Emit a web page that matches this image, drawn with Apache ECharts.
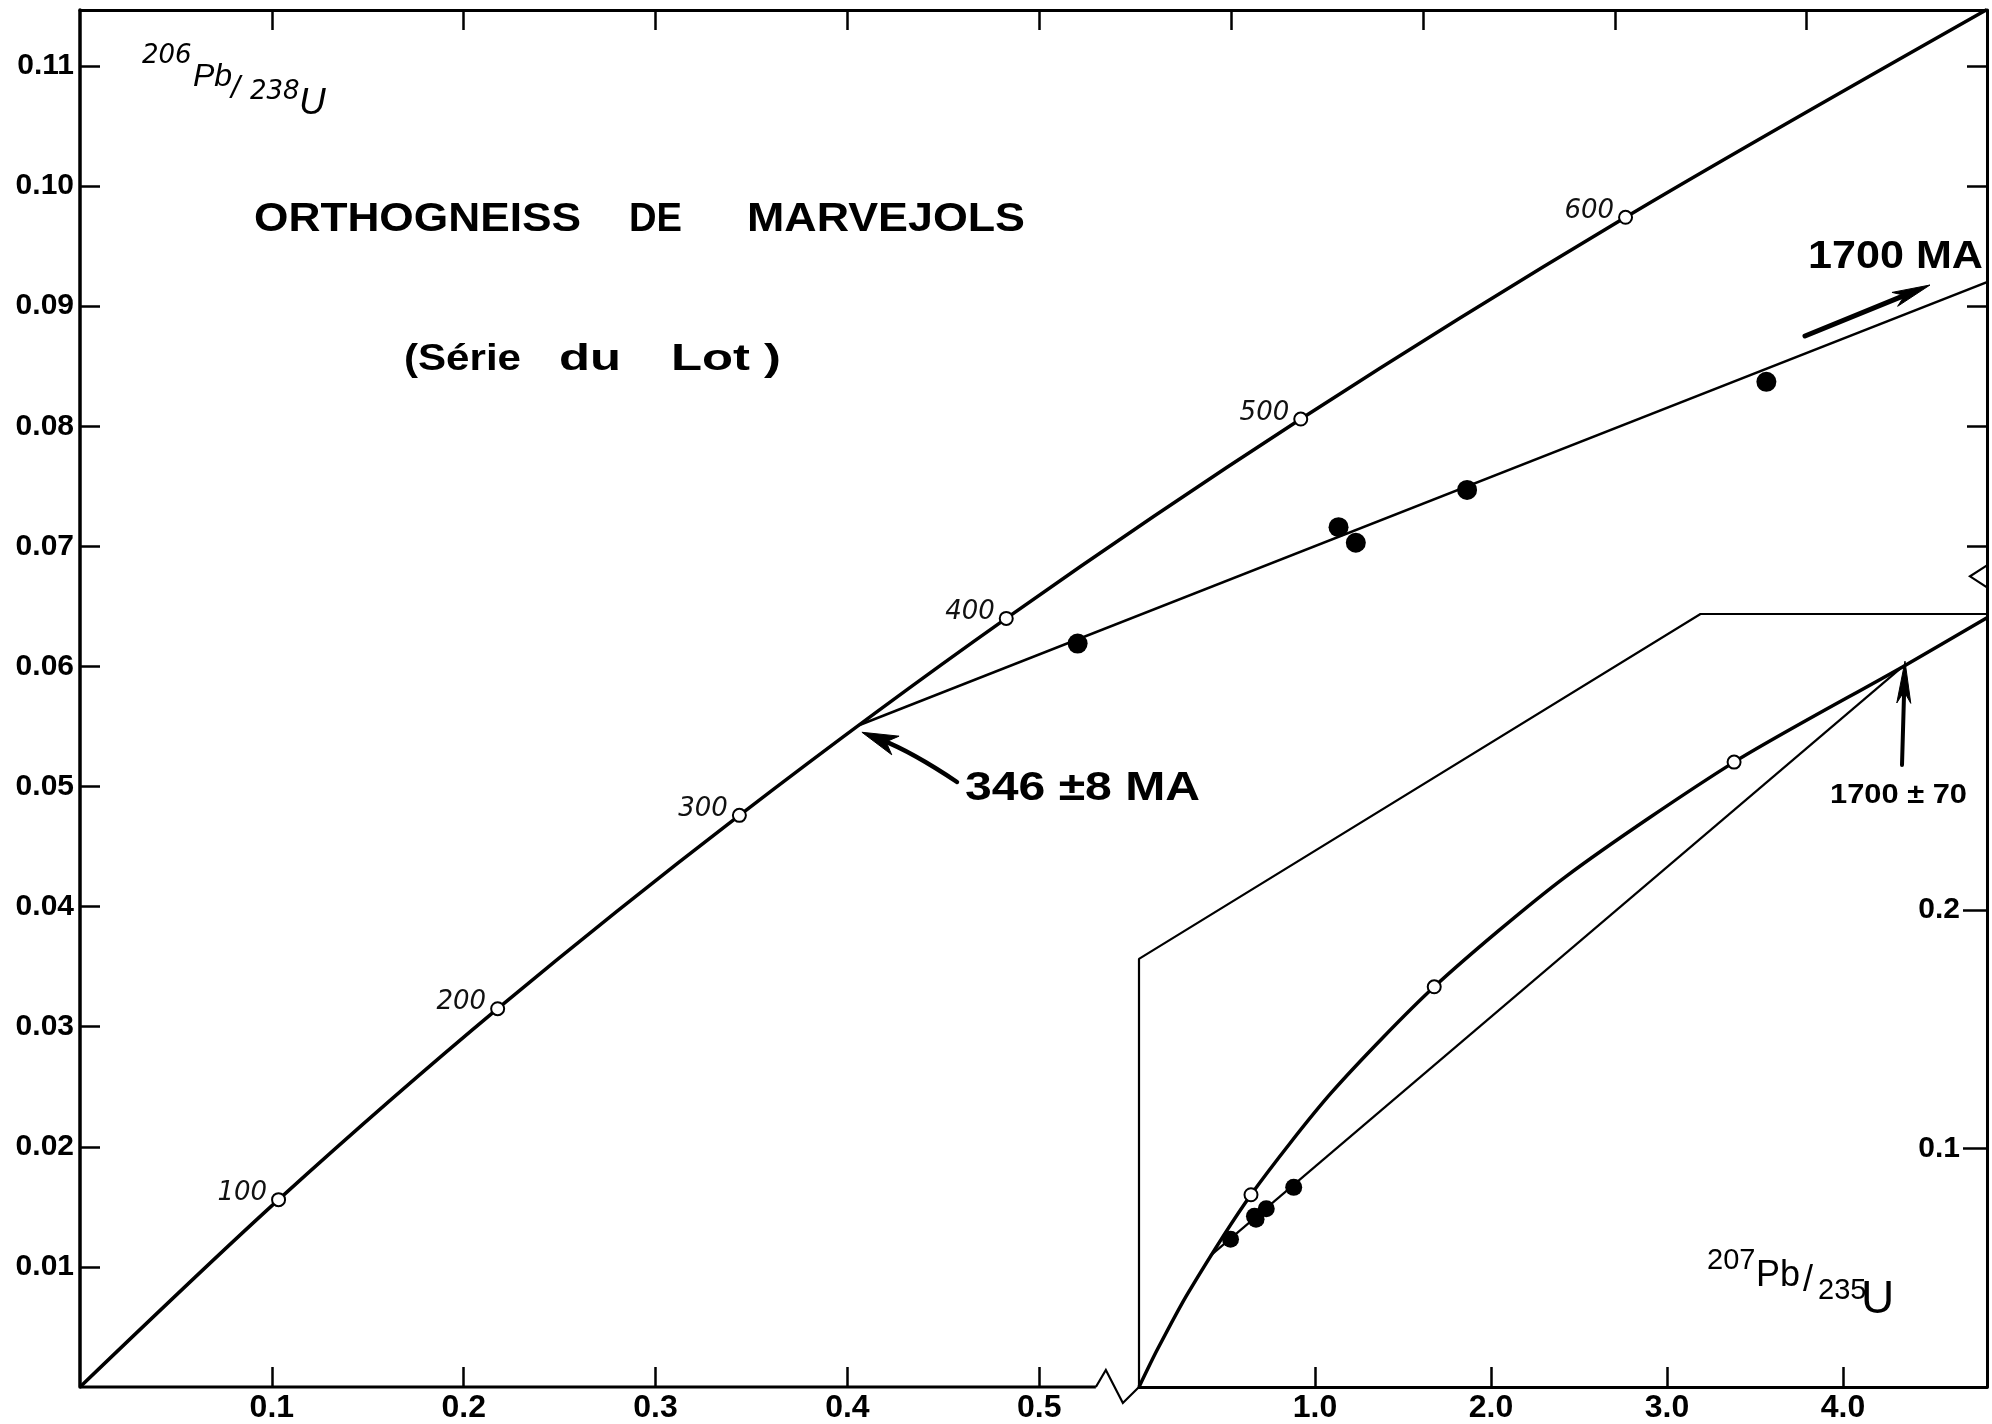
<!DOCTYPE html>
<html>
<head>
<meta charset="utf-8">
<script src="https://cdn.jsdelivr.net/npm/echarts@6/dist/echarts.min.js"></script>
<style>
html,body{margin:0;padding:0;background:#fff;}
#c{width:1992px;height:1424px;}
</style>
</head>
<body>
<div id="c"></div>
<script>
// ---------------- DATA ----------------
// Main diagram: concordia curve (207Pb/235U vs 206Pb/238U)
const concordiaX = [0, 0.1035, 0.2177, 0.3437, 0.4828, 0.6363, 0.8056, 0.9940];
const concordiaY = [0, 0.0156, 0.0315, 0.0476, 0.0640, 0.0806, 0.0974, 0.1147];
// Age ticks (open circles) on the main concordia
const ageLabelsMa = [100, 200, 300, 400, 500, 600];
const ageX = [0.1035, 0.2177, 0.3437, 0.4828, 0.6363, 0.8056];
const ageY = [0.0156, 0.0315, 0.0476, 0.0640, 0.0806, 0.0974];
// Zircon fractions (filled dots)
const sampleX = [0.520, 0.656, 0.665, 0.723, 0.879];
const sampleY = [0.0619, 0.0716, 0.0703, 0.0747, 0.0837];
// Discordia in the main panel (from 346 Ma intercept to the frame edge)
const discordiaMainX = [0.406, 0.9940];
const discordiaMainY = [0.0551, 0.0920];
// Intercepts
const lowerIntercept = [0.406, 0.0551];   // 346 Ma
const upperIntercept = [4.335, 0.3018];   // 1700 Ma
// Inset: full concordia
const insetConcordiaX = [0, 0.1035, 0.2792, 0.6363, 1.0931, 1.6774, 2.4248, 3.381, 4.335, 4.818];
const insetConcordiaY = [0, 0.0156, 0.0395, 0.0806, 0.1234, 0.1678, 0.2140, 0.2620, 0.3018, 0.3225];
const insetAgeMa = [500, 1000, 1500];
const insetAgeX = [0.6363, 1.6774, 3.381];
const insetAgeY = [0.0806, 0.1678, 0.2620];
const insetDiscordiaX = [0.406, 4.335];
const insetDiscordiaY = [0.0551, 0.3018];
// Tick values
const mainBottomTicks = [0.1, 0.2, 0.3, 0.4, 0.5];
const mainTopTicks = [0.1, 0.2, 0.3, 0.4, 0.5, 0.6, 0.7, 0.8, 0.9];
const mainLeftTicks = [0.01, 0.02, 0.03, 0.04, 0.05, 0.06, 0.07, 0.08, 0.09, 0.10, 0.11];
const mainRightTicks = [0.07, 0.08, 0.09, 0.10, 0.11];
const insetXTicks = [1, 2, 3, 4];
const insetYTicks = [0.1, 0.2];

// ---------------- LAYOUT ----------------
const MAIN_X_MAX = 0.994, MAIN_Y_MAX = 0.11466;
const INSET_X_MAX = 4.818, INSET_Y_MAX = 0.3241;
const BREAK_X = 0.5295;                      // main bottom axis stops here
const insetFrame = [[0, 0], [0, 0.1795], [3.19, INSET_Y_MAX], [INSET_X_MAX, INSET_Y_MAX]];

const SANS = "'Liberation Sans', Arial, Helvetica, sans-serif";
const NARROW = "'Liberation Sans Narrow', 'Arial Narrow', 'Liberation Sans', sans-serif";
const DEJAVU = "'DejaVu Sans', sans-serif";
const BLACK = '#000';
const zip = (a, b) => a.map((v, i) => [v, b[i]]);
const tickStyle = {color: BLACK, width: 2.5};

const option = {
  animation: false,
  backgroundColor: '#fff',
  grid: [
    {left: 80, top: 10, width: 1907, height: 1377, outerBoundsMode: 'none', containLabel: false},
    {left: 1139, top: 614, width: 848, height: 773, outerBoundsMode: 'none', containLabel: false}
  ],
  xAxis: [
    {gridIndex: 0, type: 'value', min: 0, max: MAIN_X_MAX, interval: 0.1, position: 'bottom',
     axisLine: {show: false, onZero: false},
     axisTick: {show: true, inside: true, length: 20, customValues: mainBottomTicks, lineStyle: tickStyle},
     axisLabel: {show: true, customValues: mainBottomTicks, formatter: v => v.toFixed(1), margin: 5,
                 color: BLACK, fontFamily: NARROW, fontSize: 32, fontWeight: 'bold'},
     splitLine: {show: false}},
    {gridIndex: 0, type: 'value', min: 0, max: MAIN_X_MAX, interval: 0.1, position: 'top',
     axisLine: {show: true, onZero: false, lineStyle: {color: BLACK, width: 3}},
     axisTick: {show: true, inside: true, length: 20, customValues: mainTopTicks, lineStyle: tickStyle},
     axisLabel: {show: false}, splitLine: {show: false}},
    {gridIndex: 1, type: 'value', min: 0, max: INSET_X_MAX, interval: 1, position: 'bottom',
     axisLine: {show: true, onZero: false, lineStyle: {color: BLACK, width: 3}},
     axisTick: {show: true, inside: true, length: 20, customValues: insetXTicks, lineStyle: tickStyle},
     axisLabel: {show: true, customValues: insetXTicks, formatter: v => v.toFixed(1), margin: 5,
                 color: BLACK, fontFamily: NARROW, fontSize: 32, fontWeight: 'bold'},
     splitLine: {show: false}}
  ],
  yAxis: [
    {gridIndex: 0, type: 'value', min: 0, max: MAIN_Y_MAX, interval: 0.01, position: 'left',
     axisLine: {show: true, onZero: false, lineStyle: {color: BLACK, width: 3.5}},
     axisTick: {show: true, inside: true, length: 20, customValues: mainLeftTicks, lineStyle: tickStyle},
     axisLabel: {show: true, customValues: mainLeftTicks, formatter: v => v.toFixed(2), margin: 6,
                 color: BLACK, fontFamily: SANS, fontSize: 30, fontWeight: 'bold'},
     splitLine: {show: false}},
    {gridIndex: 0, type: 'value', min: 0, max: MAIN_Y_MAX, interval: 0.01, position: 'right',
     axisLine: {show: true, onZero: false, lineStyle: {color: BLACK, width: 3}},
     axisTick: {show: true, inside: true, length: 20, customValues: mainRightTicks, lineStyle: tickStyle},
     axisLabel: {show: false}, splitLine: {show: false}},
    {gridIndex: 1, type: 'value', min: 0, max: INSET_Y_MAX, interval: 0.1, position: 'right',
     axisLine: {show: false, onZero: false},
     axisTick: {show: true, inside: true, length: 24, customValues: insetYTicks, lineStyle: tickStyle},
     axisLabel: {show: true, inside: true, customValues: insetYTicks, formatter: v => v.toFixed(1), margin: 27,
                 color: BLACK, fontFamily: SANS, fontSize: 30, fontWeight: 'bold'},
     splitLine: {show: false}}
  ],
  series: [
    // main bottom axis segment (left of the break)
    {type: 'line', xAxisIndex: 0, yAxisIndex: 0, data: [[0, 0], [BREAK_X, 0]], symbol: 'none',
     lineStyle: {color: BLACK, width: 3}, clip: false, silent: true, z: 2},
    {type: 'line', name: 'Concordia', xAxisIndex: 0, yAxisIndex: 0, data: zip(concordiaX, concordiaY),
     smooth: 0.3, symbol: 'none', lineStyle: {color: BLACK, width: 3.5}, clip: false, silent: true, z: 3},
    {type: 'line', name: 'Discordia', xAxisIndex: 0, yAxisIndex: 0, data: zip(discordiaMainX, discordiaMainY),
     symbol: 'none', lineStyle: {color: BLACK, width: 2.5}, clip: false, silent: true, z: 3},
    {type: 'scatter', name: 'Ages', xAxisIndex: 0, yAxisIndex: 0,
     data: ageX.map((x, i) => [x, ageY[i], ageLabelsMa[i]]),
     symbol: 'circle', symbolSize: 13,
     itemStyle: {color: '#fff', borderColor: BLACK, borderWidth: 2, opacity: 1},
     label: {show: true, position: 'left', distance: 4, offset: [0, -6], formatter: p => String(p.value[2]),
             fontFamily: DEJAVU, fontStyle: 'italic', fontSize: 26, color: '#111'},
     silent: true, z: 5},
    {type: 'scatter', name: 'Zircons', xAxisIndex: 0, yAxisIndex: 0, data: zip(sampleX, sampleY),
     symbol: 'circle', symbolSize: 20, itemStyle: {color: BLACK, opacity: 1}, silent: true, z: 6},
    // inset
    {type: 'line', name: 'Inset frame', xAxisIndex: 2, yAxisIndex: 2, data: insetFrame, symbol: 'none',
     lineStyle: {color: BLACK, width: 2.2}, clip: false, silent: true, z: 2},
    {type: 'line', name: 'Inset concordia', xAxisIndex: 2, yAxisIndex: 2, data: zip(insetConcordiaX, insetConcordiaY),
     smooth: 0.25, symbol: 'none', lineStyle: {color: BLACK, width: 3.5}, clip: false, silent: true, z: 3},
    {type: 'line', name: 'Inset discordia', xAxisIndex: 2, yAxisIndex: 2, data: zip(insetDiscordiaX, insetDiscordiaY),
     symbol: 'none', lineStyle: {color: BLACK, width: 2.2}, clip: false, silent: true, z: 3},
    {type: 'scatter', name: 'Inset ages', xAxisIndex: 2, yAxisIndex: 2,
     data: insetAgeX.map((x, i) => [x, insetAgeY[i], insetAgeMa[i]]),
     symbol: 'circle', symbolSize: 13, itemStyle: {color: '#fff', borderColor: BLACK, borderWidth: 2, opacity: 1},
     silent: true, z: 5},
    {type: 'scatter', name: 'Inset zircons', xAxisIndex: 2, yAxisIndex: 2, data: zip(sampleX, sampleY),
     symbol: 'circle', symbolSize: 17, itemStyle: {color: BLACK, opacity: 1}, silent: true, z: 6}
  ]
};

const chart = echarts.init(document.getElementById('c'), null, {renderer: 'canvas', width: 1992, height: 1424});
chart.setOption(option);

// ---------------- ANNOTATIONS ----------------
const g0 = p => chart.convertToPixel({gridIndex: 0}, p);
const g1 = p => chart.convertToPixel({gridIndex: 1}, p);
const mctx = document.createElement('canvas').getContext('2d');

function fitText(str, x, y, font, targetW) {
  mctx.font = font;
  const w = mctx.measureText(str).width;
  return {type: 'text', x: x, y: y, scaleX: targetW ? targetW / w : 1, silent: true, z: 100,
          style: {text: str, font: font, fill: BLACK, align: 'left', verticalAlign: 'middle'}};
}
function plainText(str, x, y, font) { return fitText(str, x, y, font, null); }

function arrow(tail, tip, ctrl, lw, headLen, headW) {
  const from = ctrl || tail;
  let dx = tip[0] - from[0], dy = tip[1] - from[1];
  const L = Math.hypot(dx, dy); dx /= L; dy /= L;
  const nx = -dy, ny = dx;
  const end = [tip[0] - dx * headLen * 0.6, tip[1] - dy * headLen * 0.6];
  const els = [];
  if (ctrl) {
    els.push({type: 'bezierCurve', silent: true, z: 100,
      shape: {x1: tail[0], y1: tail[1], x2: end[0], y2: end[1], cpx1: ctrl[0], cpy1: ctrl[1]},
      style: {stroke: BLACK, lineWidth: lw, fill: null, lineCap: 'round'}});
  } else {
    els.push({type: 'line', silent: true, z: 100,
      shape: {x1: tail[0], y1: tail[1], x2: end[0], y2: end[1]},
      style: {stroke: BLACK, lineWidth: lw, lineCap: 'round'}});
  }
  const b = [tip[0] - dx * headLen, tip[1] - dy * headLen];
  els.push({type: 'polygon', silent: true, z: 101,
    shape: {points: [tip,
      [b[0] + nx * headW / 2, b[1] + ny * headW / 2],
      [tip[0] - dx * headLen * 0.72, tip[1] - dy * headLen * 0.72],
      [b[0] - nx * headW / 2, b[1] - ny * headW / 2]]},
    style: {fill: BLACK, stroke: BLACK, lineWidth: 1}});
  return els;
}

const gr = [];
// axis break on the bottom axis
const pb = g0([BREAK_X, 0]);
const pi = g1([0, 0]);
gr.push({type: 'polyline', silent: true, z: 50,
  shape: {points: [pb, [pb[0] + 10, pb[1] - 17], [pb[0] + 27, pb[1] + 16], pi]},
  style: {stroke: BLACK, lineWidth: 2.2, fill: null}});
// break mark on the right frame
const pr = g0([MAIN_X_MAX, 0.0675]);
gr.push({type: 'polyline', silent: true, z: 50,
  shape: {points: [[pr[0], pr[1] - 11], [pr[0] - 17, pr[1]], [pr[0], pr[1] + 11]]},
  style: {stroke: BLACK, lineWidth: 2.2, fill: null}});

// title
const TF = `bold 40px ${SANS}`;
gr.push(fitText('ORTHOGNEISS', 254, 220, TF, 327));
gr.push(fitText('DE', 629, 220, TF, 53));
gr.push(fitText('MARVEJOLS', 747, 220, TF, 278));
const SF = `bold 37px ${SANS}`;
gr.push(fitText('(Série', 404, 360, SF, 117));
gr.push(fitText('du', 559, 360, SF, 62));
gr.push(fitText('Lot )', 671, 360, SF, 110));

// 1700 MA with arrow
gr.push(fitText('1700 MA', 1808, 257, `bold 39px ${SANS}`, 175));
gr.push(...arrow([1805, 336], [1930, 285], null, 5, 38, 15));

// 346 ±8 MA with arrow to the lower intercept
gr.push(fitText('346 ±8 MA', 965, 789, `bold 40px ${SANS}`, 235));
const li = g0(lowerIntercept);
gr.push(...arrow([957, 782], [li[0] + 3, li[1] + 7], [912, 752], 4.5, 36, 20));

// 1700 ± 70 with arrow to the upper intercept (inset)
gr.push(fitText('1700 ± 70', 1830, 795, `bold 28px ${SANS}`, 137));
const ui = g1(upperIntercept);
gr.push(...arrow([1902, 765], [ui[0] + 3, ui[1] - 6], null, 4, 42, 14));

// axis titles
gr.push(plainText('206', 142, 56, `italic 26px ${DEJAVU}`));
gr.push(plainText('Pb', 193, 77, `italic 32px ${SANS}`));
gr.push(plainText('/', 231, 89, `italic 32px ${SANS}`));
gr.push(plainText('238', 250, 92, `italic 26px ${DEJAVU}`));
gr.push(plainText('U', 299, 104, `italic 37px ${SANS}`));

const UT = s => `${s}px ${NARROW}`;
gr.push(plainText('207', 1707, 1261, UT(29)));
gr.push(plainText('Pb', 1756, 1276, UT(36)));
gr.push(plainText('/', 1803, 1281, UT(36)));
gr.push(plainText('235', 1818, 1291, UT(29)));
gr.push(plainText('U', 1861, 1300, UT(46)));

chart.setOption({graphic: gr});
</script>
</body>
</html>
